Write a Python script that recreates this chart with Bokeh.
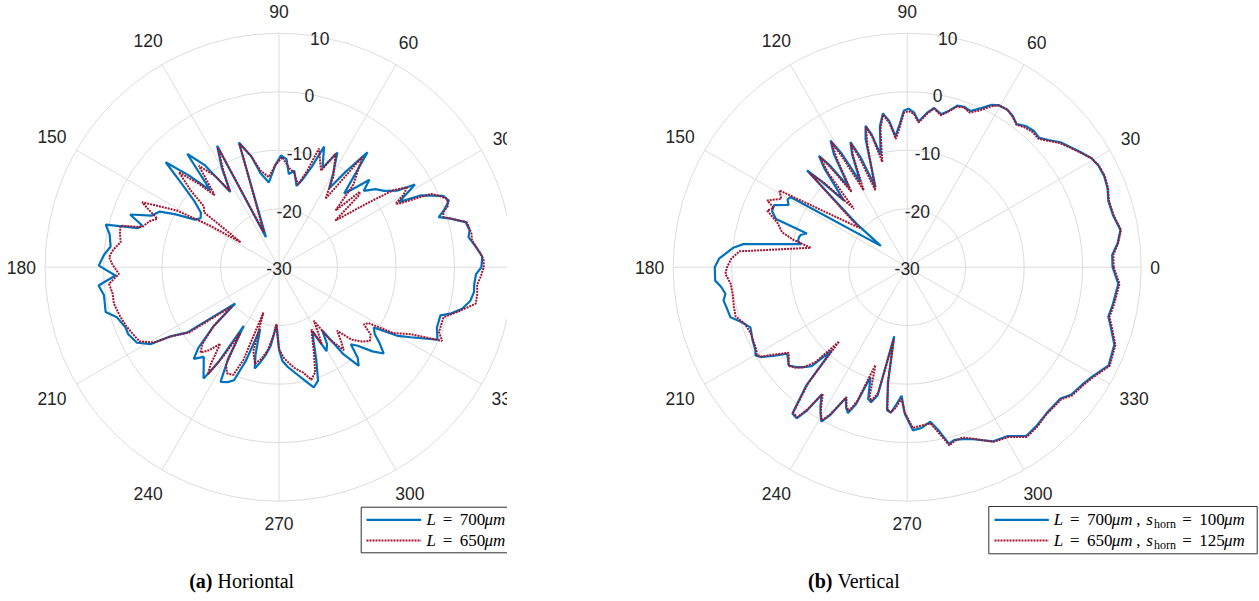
import numpy as np
from bokeh.plotting import figure
from bokeh.layouts import row
from bokeh.models import Range1d
from bokeh.core.properties import value
from bokeh.embed import file_html
from bokeh.resources import INLINE

# ---------------- data (angle in degrees, gain in dB) ----------------
r_ticks = [-30, -20, -10, 0, 10]
theta_ticks = [0, 30, 60, 90, 120, 150, 180, 210, 240, 270, 300, 330]

# (a) Horizontal, L = 700 um
h700 = [(0,4.6),(3,4.8),(6,3.8),(9,2.8),(11,3.2),(13.6,2.8),(15.8,0.5),(17.4,-1.4),(19,-0.2),(21.4,1.2),(23.5,0.6),(26.9,-2.9),(28.5,-6.7),(31.3,-2.8),(33,-6.0),(36,-7.8),(39,-8.8),(42,-10.5),(44,-8.5),(46,-11.0),(48.5,-13.2),(52.4,-5.2),(55,-10.0),(57.5,-14.0),(60,-11.5),(63,-8.0),(66.3,-11.5),(69.5,-8.0),(72,-12.0),(75,-14.5),(77.8,-15.8),(81,-13.3),(84,-14.0),(86,-11.5),(89,-10.9),(92,-12.5),(96.8,-15.4),(101,-13.7),(104,-10.5),(107.8,-7.6),(113.5,-24.4),(117,-6.7),(120,-10.5),(122.9,-14.7),(126,-8.5),(129,-5.1),(131.8,-12.4),(134.5,-8.0),(137.2,-3.6),(139,-7.5),(141.9,-11.5),(145,-13.7),(148,-14.2),(150.5,-13.5),(153,-10.0),(155,-7.5),(158,-6.5),(160.5,-3.0),(163,-5.5),(164.5,-5.0),(166.2,0.5),(169,-0.5),(173,-1.0),(176,0.0),(179.5,0.8),(182.9,-2.0),(185.8,1.0),(189,0.3),(194.5,0.6),(197.2,-1.0),(201.4,-1.8),(204,-1.8),(208,-2.5),(211,-4.5),(212.5,-8.0),(215.4,-10.7),(219.6,-20.3),(222,-15.0),(225,-10.5),(227.1,-8.6),(230,-10.0),(235.9,-7.0),(237.5,-11.0),(239,-18.3),(241,-12.0),(243,-8.0),(246,-8.5),(248.3,-9.2),(250.5,-13.0),(253,-19.0),(255,-14.5),(256.5,-12.2),(259,-13.5),(261.3,-14.8),(264,-16.5),(267.5,-20.1),(270,-16.0),(272,-14.0),(274.7,-13.0),(278.8,-11.7),(282,-10.5),(286.1,-8.6),(289,-9.5),(292,-13.0),(295,-16.0),(297.5,-17.6),(299.5,-13.5),(302,-14.5),(304.4,-16.9),(306.5,-11.5),(308.9,-8.3),(311,-9.5),(313,-12.0),(315,-11.0),(318,-8.5),(320.5,-6.8),(323,-8.5),(325,-10.0),(327.5,-10.8),(330,-6.5),(332,-4.5),(335.4,-0.2),(339,-1.1),(343.4,-1.2),(345,0.5),(347.2,2.1),(350,3.2),(352.7,3.6),(355,3.5),(358,3.7)]

# (a) Horizontal, L = 650 um
h650 = [(0,5.0),(2,5.0),(4,4.5),(7.9,3.3),(10,3.4),(13.5,3.0),(15.5,0.8),(17,-0.6),(18.5,-0.4),(20,0.8),(22.1,1.0),(24,0.0),(25.8,-1.2),(27.9,-6.8),(28.6,-7.3),(30,-5.5),(32,-4.2),(34,-6.5),(36,-11.5),(39.6,-17.5),(42,-11.5),(43,-11.1),(45.1,-16.3),(48,-11.0),(52.9,-6.4),(55.8,-15.9),(59,-12.0),(63.5,-8.3),(66.5,-12.0),(71.4,-8.6),(73.7,-12.8),(77,-15.5),(81.1,-13.6),(84,-13.0),(88.3,-11.2),(92,-12.5),(96.5,-14.5),(100.8,-13.2),(104,-10.5),(107.8,-7.8),(113.5,-23.5),(117,-7.0),(120,-11.0),(122.9,-14.5),(125,-11.0),(128.3,-7.9),(131.8,-13.5),(134,-10.0),(136.5,-6.4),(139,-10.0),(141,-13.5),(143.8,-14.1),(145.5,-20.0),(147,-22.2),(149,-16.0),(151,-10.0),(154.6,-4.1),(156,-5.5),(158.3,-7.6),(160.5,-6.5),(163.7,-5.6),(165.3,-2.0),(168,-2.2),(171,-2.6),(174,-1.5),(176.6,-0.9),(179,-1.5),(182.4,-2.6),(185.6,-0.8),(189,-1.2),(192.5,-1.1),(197.5,-1.6),(201,-2.0),(205,-2.6),(208,-3.0),(211,-5.0),(213,-8.5),(216,-11.0),(219.6,-19.5),(222,-15.0),(225,-11.5),(227.4,-10.2),(230,-11.5),(232.5,-13.5),(235,-9.5),(236.5,-8.0),(238,-12.0),(239.5,-17.0),(241.5,-11.0),(244,-9.8),(247,-10.0),(249,-13.0),(251,-21.8),(253,-15.0),(256,-13.0),(259,-14.0),(262,-15.5),(265,-18.0),(267.5,-20.3),(270,-16.0),(273,-14.5),(276,-13.5),(279,-12.5),(283,-11.5),(286,-10.0),(289,-11.0),(292,-14.0),(295,-16.5),(297.5,-18.0),(299,-15.0),(301,-17.0),(303,-19.1),(305,-15.0),(308,-12.0),(310,-13.5),(312.5,-15.3),(315,-12.5),(318,-11.0),(321,-10.0),(323.8,-10.6),(326,-12.5),(328,-12.0),(330,-7.5),(333,-4.8),(335.7,0.6),(338,-0.5),(343.1,-0.6),(346,1.5),(349.5,4.2),(352.4,4.2),(355,4.0),(357.2,4.5)]

# (b) Vertical, L = 700 um, s_horn = 100 um
v700 = [(0,5.1),(3.4,5.1),(6.5,6.2),(9.9,7.0),(14,6.3),(18.2,6.2),(21.5,6.8),(24.8,7.1),(28,7.0),(30.6,6.6),(33.5,5.6),(36.1,4.7),(39.2,3.8),(42,2.5),(44.4,1.6),(47.2,1.8),(50,1.5),(52.6,0.8),(55,1.5),(57.5,1.9),(60.5,1.8),(62.5,1.3),(65,0.0),(68,-1.2),(70.5,-0.9),(72.8,-1.1),(75,-2.3),(77.5,-3.2),(80.4,-2.4),(82.5,-3.3),(85.5,-5.0),(87.5,-3.5),(89.5,-2.9),(91.2,-3.2),(93,-5.5),(95.1,-7.5),(97,-4.8),(99,-3.4),(101,-5.5),(103.3,-10.3),(105,-6.5),(106.4,-4.8),(108,-7.0),(111.6,-15.3),(113,-9.5),(114.4,-6.5),(116,-8.5),(118.8,-13.4),(120,-7.5),(121.2,-4.7),(123,-7.0),(126.1,-13.1),(127.3,-8.0),(128.4,-5.7),(130,-8.0),(133.5,-14.3),(135,-9.0),(136,-6.2),(139.5,-19.0),(141,-24.2),(149,-6.7),(150.5,-6.5),(152.3,-7.1),(155,-4.9),(157.5,-5.0),(159.8,-6.1),(161.4,-11.9),(163,-11.0),(164.5,-10.8),(166.5,-10.8),(167.8,-11.4),(172,-1.7),(173.6,-0.1),(177.4,2.2),(180,2.9),(184,2.9),(186,2.0),(188.3,1.4),(190.3,1.9),(193,1.6),(195.8,1.4),(198,0.0),(201,-1.3),(205,-0.8),(208.8,-0.4),(210.2,0.0),(211.5,-0.6),(213.5,-2.5),(215.8,-4.7),(217.5,-4.3),(219.7,-3.7),(222,-4.5),(224,-5.4),(226,-6.5),(227.8,-10.8),(229.5,-3.5),(231.9,1.8),(233.8,2.0),(235,0.0),(236.1,-3.8),(238,-2.0),(239.4,-0.9),(240.9,0.2),(242.5,-1.5),(244.9,-5.3),(246.5,-3.8),(247.9,-3.1),(249.5,-5.0),(251.5,-10.2),(253.5,-6.5),(255,-6.1),(257,-7.5),(259.3,-18.0),(260.5,-10.0),(262,-5.3),(263.6,-5.0),(265.5,-6.5),(267.5,-8.0),(269,-5.0),(272,-2.1),(275,-2.4),(278.5,-3.3),(281,-1.5),(283.3,1.0),(285.3,0.6),(288,0.9),(291,1.5),(296.3,3.2),(300.8,3.6),(305.2,5.3),(309,5.0),(313.8,4.5),(319.4,4.5),(322.1,5.5),(326,6.0),(329.3,6.7),(334,8.3),(339.5,7.8),(344.1,6.1),(346.2,5.4),(349.5,5.7),(355.5,6.2)]

# (b) Vertical, L = 650 um, s_horn = 125 um
v650 = [(0,5.3),(3.4,5.3),(6.5,6.3),(9.9,7.1),(14,6.4),(18.2,6.3),(21.5,6.9),(24.8,7.2),(28,7.1),(30.6,6.6),(33.5,5.5),(36.1,4.6),(39.2,3.6),(42,2.3),(44.4,1.4),(47.2,1.5),(50,1.2),(52.6,0.7),(55,1.4),(57.5,1.9),(60.5,1.8),(62.5,1.0),(65,-0.4),(68,-1.5),(70.5,-1.0),(72.8,-1.3),(75,-2.4),(77.5,-3.4),(80.4,-2.5),(82.5,-3.5),(85.5,-5.2),(87.5,-3.8),(89.5,-3.3),(91.2,-3.6),(93,-6.0),(95.1,-8.0),(97,-5.2),(99,-3.6),(101,-6.0),(103.3,-11.5),(105,-7.0),(106.4,-5.0),(108,-8.0),(112.5,-15.8),(113.5,-10.0),(114.4,-6.8),(116,-9.0),(119.5,-14.9),(120.5,-8.0),(121.2,-5.0),(123,-8.0),(126.5,-14.0),(127.5,-8.5),(128.4,-6.0),(130,-9.0),(132.4,-16.5),(134.5,-10.0),(136,-6.8),(139.5,-17.5),(140.5,-19.5),(149,-4.5),(151.5,-5.5),(154.5,-3.5),(156,-5.0),(158,-4.2),(161,-6.5),(164.4,-7.8),(166.5,-10.0),(168.6,-13.2),(174.6,-1.2),(177.2,0.1),(180,0.8),(182.1,1.1),(185.4,0.3),(189,0.2),(193,0.4),(196,0.5),(199.3,-0.6),(203,-1.0),(206,-0.8),(208.8,-0.6),(210.2,-0.2),(211.5,-0.8),(213.5,-3.0),(215.8,-5.0),(217.5,-4.5),(219.7,-3.6),(222,-4.3),(224,-5.3),(226,-7.5),(227.5,-12.8),(229.5,-4.0),(231.9,1.6),(233.8,1.8),(235,-0.5),(236.3,-4.0),(238,-2.3),(239.4,-1.0),(240.9,0.0),(242.5,-1.8),(244.9,-5.5),(246.5,-4.0),(247.9,-3.5),(249.5,-5.5),(252,-12.4),(253.8,-7.0),(255,-6.3),(257,-8.0),(259.5,-17.5),(260.5,-10.5),(262,-5.5),(263.6,-5.0),(265.5,-6.0),(267.5,-7.5),(269,-5.2),(272,-2.5),(275,-2.8),(278.5,-3.0),(281,-1.0),(283.3,1.3),(285.3,0.8),(288,0.6),(291,1.4),(296.3,3.3),(300.8,3.8),(305.2,5.5),(309,5.2),(313.8,4.6),(319.4,4.7),(322.1,5.7),(326,6.2),(329.3,6.9),(334,8.5),(339.5,8.0),(344.1,6.3),(346.2,5.6),(349.5,5.9),(355.5,6.4)]

captions = [("(a)", "Horiontal"), ("(b)", "Vertical")]

# ---------------- style / layout ----------------
R_MIN, R_MAX = r_ticks[0], r_ticks[-1]
GRID = "#dcdcdc"
TXT = "#262626"
BLUE = "#0072BD"
RED = "#A2142F"
S = 5.85          # pixels per dB
H = 601
W1 = 507
W2 = 1259 - W1
CY = 266.7
CX1 = 278.5
CX2 = 906.7 - W1
TICK_FS = 17.5
SANS = value("Liberation Sans")
SERIF = value("Liberation Serif")


def polar_xy(series):
    deg = np.array([a for a, _ in series] + [series[0][0]], dtype=float)
    db = np.array([d for _, d in series] + [series[0][1]], dtype=float)
    t = np.radians(deg)
    rr = db - R_MIN
    return rr * np.cos(t), rr * np.sin(t)


def make_polar(width, cx, s1, s2):
    p = figure(width=width, height=H, output_backend="svg", toolbar_location=None,
               x_range=Range1d(-cx / S, (width - cx) / S),
               y_range=Range1d(-(H - CY) / S, CY / S),
               x_axis_type=None, y_axis_type=None, min_border=0,
               outline_line_color=None, background_fill_color="white",
               border_fill_color="white")
    # rings
    rad = [r - R_MIN for r in r_ticks[1:]]
    p.circle(x=[0] * len(rad), y=[0] * len(rad), radius=rad, fill_color=None,
             line_color=GRID, line_width=1)
    # spokes
    th = np.radians(theta_ticks)
    rout = R_MAX - R_MIN
    p.segment(x0=[0] * len(th), y0=[0] * len(th), x1=rout * np.cos(th),
              y1=rout * np.sin(th), line_color=GRID, line_width=1)
    # theta labels (skip those lying wholly outside this panel)
    lx, ly, lt = [], [], []
    for t in theta_ticks:
        lab = str(t)
        w = len(lab) * 0.556 * TICK_FS
        c, s = np.cos(np.radians(t)), np.sin(np.radians(t))
        rp = 243 + abs(c) * w / 2 + abs(s) * 13
        if cx + rp * c - w / 2 > width:
            continue
        lx.append(rp / S * c)
        ly.append(rp / S * s)
        lt.append(lab)
    p.text(x=lx, y=ly, text=lt, text_align="center", text_baseline="middle",
           text_font=SANS, text_font_size=value(f"{TICK_FS}px"), text_color=TXT)
    # curves
    x1, y1 = polar_xy(s1)
    x2, y2 = polar_xy(s2)
    p.line(x1, y1, line_color=BLUE, line_width=2.2)
    p.line(x2, y2, line_color=RED, line_width=2, line_dash="2 1")
    # r labels along 80 deg
    a80 = np.radians(80)
    rx = [(r - R_MIN) * np.cos(a80) for r in r_ticks]
    ry = [(r - R_MIN) * np.sin(a80) - 0.25 for r in r_ticks]
    p.text(x=rx, y=ry, text=[str(r) for r in r_ticks], text_align="center",
           text_baseline="middle", text_font=SANS,
           text_font_size=value(f"{TICK_FS}px"), text_color=TXT)
    return p


def px_to_data(cx, px, py):
    return (px - cx) / S, (CY - py) / S


EM = 16.5


def add_legend(p, cx, box, x_line, x_text, rows):
    l, r, t, b = box
    L, T = px_to_data(cx, l, t)
    R_, B = px_to_data(cx, r, b)
    p.quad(left=[L], right=[R_], top=[T], bottom=[B], fill_color="white",
           line_color="#303030", line_width=1)
    for ypx, color, dash, pieces in rows:
        xa, yy = px_to_data(cx, x_line[0], ypx)
        xb, _ = px_to_data(cx, x_line[1], ypx)
        if dash:
            p.line([xa, xb], [yy, yy], line_color=color, line_width=2, line_dash=dash)
        else:
            p.line([xa, xb], [yy, yy], line_color=color, line_width=2.2)
        xpos = x_text
        for txt, style, adv, lead, sub in pieces:
            fs = "12px" if sub else "17px"
            dy = 4 if sub else 0
            tx, ty = px_to_data(cx, xpos + lead * EM, ypx + dy)
            p.text(x=[tx], y=[ty], text=[txt], text_align="left",
                   text_baseline="middle", text_font=SERIF,
                   text_font_size=value(fs), text_font_style=style,
                   text_color="black")
            xpos += adv * EM


def label_pieces(L_val, s_val=None):
    pcs = [("L", "italic", 0.681, 0.0, False),
           ("=", "normal", 1.334, 0.30, False),
           (L_val, "normal", 1.5, 0.0, False),
           ("μm", "italic", 1.481, 0.0, False)]
    if s_val is not None:
        pcs += [(",", "normal", 0.611, 0.0, False),
                ("s", "italic", 0.469, 0.0, False),
                ("horn", "normal", 1.403, 0.0, True),
                ("=", "normal", 1.334, 0.30, False),
                (s_val, "normal", 1.5, 0.0, False),
                ("μm", "italic", 1.481, 0.0, False)]
    return pcs


def add_caption(p, cx, split_px, ypx, bold, rest):
    x, y = px_to_data(cx, split_px, ypx)
    p.text(x=[x], y=[y], text=[bold], text_align="right", text_baseline="middle",
           text_font=SERIF, text_font_size=value("20px"), text_font_style="bold",
           text_color="black")
    x2, _ = px_to_data(cx, split_px + 5, ypx)
    p.text(x=[x2], y=[y], text=[rest], text_align="left", text_baseline="middle",
           text_font=SERIF, text_font_size=value("20px"), text_color="black")


p1 = make_polar(W1, CX1, h700, h650)
add_legend(p1, CX1, (360.7, 530, 506.7, 552.3), (366, 420.7), 426,
           [(519.3, BLUE, None, label_pieces("700")),
            (540.0, RED, "2 1", label_pieces("650"))])
add_caption(p1, CX1, 212, 580, captions[0][0], captions[0][1])

p2 = make_polar(W2, CX2, v700, v650)
off = W1
add_legend(p2, CX2, (988.3 - off, 1256.7 - off, 506, 553.3), (994 - off, 1048.3 - off),
           1053.3 - off,
           [(519.3, BLUE, None, label_pieces("700", "100")),
            (540.0, RED, "2 1", label_pieces("650", "125"))])
add_caption(p2, CX2, 832 - off, 580, captions[1][0], captions[1][1])

layout = row(p1, p2)
open("out.html", "w").write(file_html(layout, INLINE))
